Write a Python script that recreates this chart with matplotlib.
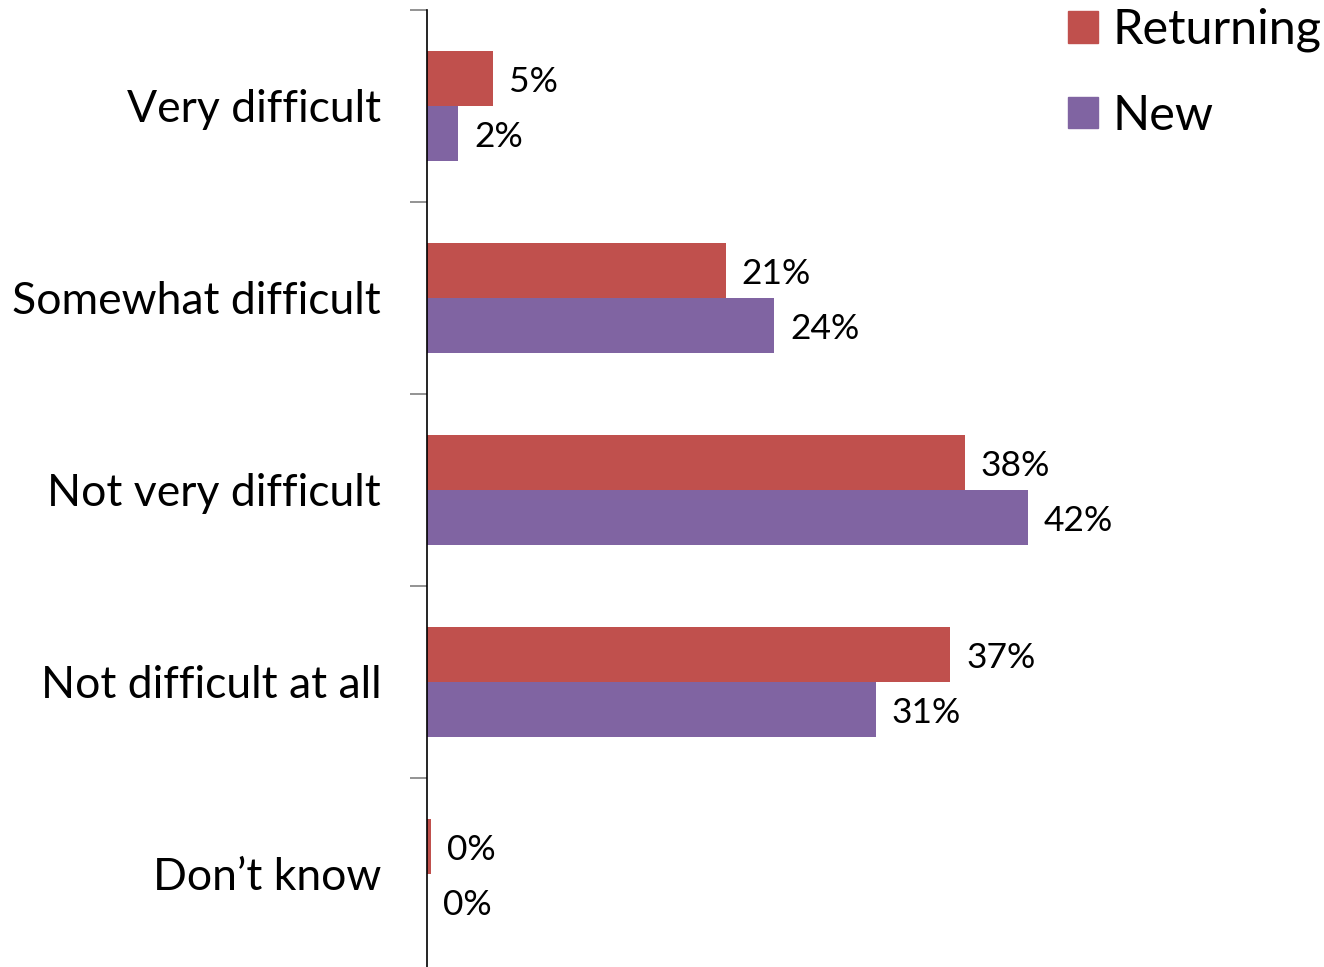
import matplotlib
matplotlib.use("Agg")
import matplotlib.pyplot as plt
import numpy as np
from matplotlib.patches import Patch

categories = ["Very difficult", "Somewhat difficult", "Not very difficult", "Not difficult at all", "Don\u2019t know"]
series_names = ["Returning", "New"]
returning = [4.6, 20.9, 37.6, 36.6, 0.3]
new = [2.2, 24.3, 42.0, 31.4, 0.0]
colors = ["#C0504D", "#8064A2"]

plt.rcParams['font.family'] = ['Lato', 'DejaVu Sans']

W, H = 1324, 967
fig = plt.figure(figsize=(W / 100, H / 100), dpi=100)
ax = fig.add_axes([427 / W, -3 / H, (W - 427) / W, 960 / H])

n = len(categories)
y = np.arange(n)
bh = 0.285
ax.barh(y - bh / 2, returning, height=bh, color=colors[0], label=series_names[0])
ax.barh(y + bh / 2, new, height=bh, color=colors[1], label=series_names[1])

for vals, off in ((returning, -bh / 2), (new, bh / 2)):
    for yi, v in zip(y, vals):
        ax.text(v + 1.1, yi + off + 0.018, f"{v:.0f}%", va="center", ha="left", fontsize=25.5)

ax.set_ylim(n - 0.5, -0.5)
ax.set_xlim(0, (W - 427) / 14.3)
ax.set_yticks(np.arange(n + 1) - 0.5)
ax.set_yticklabels([])
ax.set_yticks(y, minor=True)
ax.set_yticklabels(categories, minor=True, fontsize=32)
ax.tick_params(axis="y", which="major", direction="out", length=12, width=1.2, color="#808080")
ax.tick_params(axis="y", which="minor", length=0, pad=33)
ax.set_xticks([])
for s in ("top", "right", "bottom"):
    ax.spines[s].set_visible(False)
ax.spines["left"].set_color("black")
ax.spines["left"].set_linewidth(1.2)

handles = [Patch(color=c, label=l) for c, l in zip(colors, series_names)]
fig.legend(handles=handles, loc="upper left", bbox_to_anchor=(1063 / W, 1.0 - 3 / H), frameon=False,
           fontsize=35, handlelength=0.62, handleheight=0.62, handletextpad=0.3, labelspacing=0.85,
           borderaxespad=0, borderpad=0.1)

fig.savefig("out.png", dpi=100)
